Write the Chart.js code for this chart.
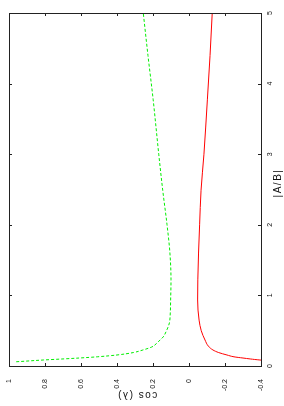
<!DOCTYPE html>
<html>
<head>
<meta charset="utf-8">
<script src="https://cdn.jsdelivr.net/npm/chart.js@4/dist/chart.umd.min.js"></script>
<style>
  html, body { margin: 0; padding: 0; background: #fff; }
  #wrap { width: 284px; height: 406px; }
</style>
</head>
<body>
<div id="wrap"><canvas id="chart" width="284" height="406"></canvas></div>
<script>
// المحور |A/B| (عمودي في الصورة)
const ratioTicks = [0, 1, 2, 3, 4, 5];
// المحور cos(λ) (أفقي ومعكوس)
const cosTicks = [1, 0.8, 0.6, 0.4, 0.2, 0, -0.2, -0.4];

// المنحنى الأخضر المتقطع
const greenRatio = [0.06, 0.07, 0.085, 0.10, 0.113, 0.13, 0.156, 0.19, 0.227, 0.269, 0.32, 0.368, 0.41, 0.5, 0.61, 0.75, 0.935, 1.22, 1.6, 2.0, 2.49, 3.0, 3.77, 4.4, 5.0];
const greenCos = [0.96, 0.9, 0.81, 0.7, 0.61, 0.51, 0.4, 0.31, 0.256, 0.207, 0.18, 0.161, 0.144, 0.125, 0.109, 0.104, 0.102, 0.1, 0.106, 0.122, 0.146, 0.168, 0.199, 0.228, 0.254];

// المنحنى الأحمر المتصل
const redRatio = [0.06, 0.085, 0.10, 0.113, 0.13, 0.156, 0.19, 0.227, 0.28, 0.368, 0.5, 0.65, 0.935, 1.22, 1.6, 2.0, 2.49, 3.0, 3.77, 4.4, 5.0];
const redCos = [-0.52, -0.394, -0.34, -0.3, -0.25, -0.211, -0.165, -0.133, -0.108, -0.089, -0.068, -0.056, -0.048, -0.049, -0.053, -0.059, -0.067, -0.083, -0.102, -0.117, -0.129];

const FONT = '"Liberation Sans", Arial, sans-serif';

function toPoints(ratios, values) {
    return ratios.map((r, i) => ({ x: values[i], y: r }));
}

// إطار المخطط والعلامات الداخلية وعناوين المحاور
const framePlugin = {
    id: 'frame',
    afterDraw(chart) {
        const ctx = chart.ctx;
        const a = chart.chartArea;
        const xs = chart.scales.x;
        const ys = chart.scales.y;
        ctx.save();
        ctx.strokeStyle = '#222';
        ctx.lineWidth = 1;
        ctx.strokeRect(Math.round(a.left) + 0.5, Math.round(a.top) + 0.5,
                       Math.round(a.right - a.left), Math.round(a.bottom - a.top));

        // علامات التدريج إلى الداخل على الجهات الأربع
        const tl = 3;
        ctx.beginPath();
        cosTicks.forEach(v => {
            const px = Math.round(xs.getPixelForValue(v)) + 0.5;
            ctx.moveTo(px, a.bottom); ctx.lineTo(px, a.bottom - tl);
            ctx.moveTo(px, a.top); ctx.lineTo(px, a.top + tl);
        });
        ratioTicks.forEach(v => {
            const py = Math.round(ys.getPixelForValue(v)) + 0.5;
            ctx.moveTo(a.left, py); ctx.lineTo(a.left + tl, py);
            ctx.moveTo(a.right, py); ctx.lineTo(a.right - tl, py);
        });
        ctx.stroke();

        // أرقام المحور الأيمن مدورة
        ctx.fillStyle = '#111';
        ctx.font = '7px ' + FONT;
        ctx.textAlign = 'center';
        ctx.textBaseline = 'middle';
        ratioTicks.forEach(v => {
            const py = ys.getPixelForValue(v);
            ctx.save();
            ctx.translate(a.right + 9.5, py);
            ctx.rotate(-Math.PI / 2);
            ctx.fillText(String(v), 0, 0);
            ctx.restore();
        });

        // عناوين المحاور
        ctx.font = '10px ' + FONT;
        ctx.letterSpacing = '1.5px';
        ctx.save();
        ctx.translate(a.right + 17, 183);
        ctx.rotate(-Math.PI / 2);
        ctx.fillText('|A/B|', 0, 0);
        ctx.restore();

        ctx.save();
        ctx.translate((a.left + a.right) / 2 + 2, 395);
        ctx.rotate(Math.PI);
        ctx.fillText('cos (λ)', 0, 0);
        ctx.restore();
        ctx.restore();
    }
};

new Chart(document.getElementById('chart').getContext('2d'), {
    type: 'scatter',
    data: {
        datasets: [{
            data: toPoints(greenRatio, greenCos),
            showLine: true,
            borderColor: '#00ee00',
            borderWidth: 1,
            borderDash: [3, 2],
            pointRadius: 0,
            cubicInterpolationMode: 'monotone'
        }, {
            data: toPoints(redRatio, redCos),
            showLine: true,
            borderColor: '#ff0000',
            borderWidth: 1,
            pointRadius: 0,
            cubicInterpolationMode: 'monotone'
        }]
    },
    options: {
        indexAxis: 'y',
        responsive: false,
        animation: false,
        events: [],
        layout: { padding: { left: 9, top: 13, right: 0, bottom: 0 } },
        plugins: { legend: { display: false }, tooltip: { enabled: false } },
        scales: {
            x: {
                type: 'linear',
                position: 'bottom',
                reverse: true,
                min: -0.4,
                max: 1,
                grid: { display: false },
                border: { display: false },
                afterBuildTicks: scale => { scale.ticks = cosTicks.map(v => ({ value: v })); },
                afterFit: scale => { scale.height = 40; },
                ticks: {
                    minRotation: 90,
                    maxRotation: 90,
                    padding: 5,
                    color: '#111',
                    font: { size: 7, family: FONT },
                    callback: v => String(Math.round(v * 10) / 10)
                }
            },
            y: {
                type: 'linear',
                position: 'right',
                min: 0,
                max: 5,
                grid: { display: false },
                border: { display: false },
                afterFit: scale => { scale.width = 23; },
                ticks: { display: false }
            }
        }
    },
    plugins: [framePlugin]
});
</script>
</body>
</html>
